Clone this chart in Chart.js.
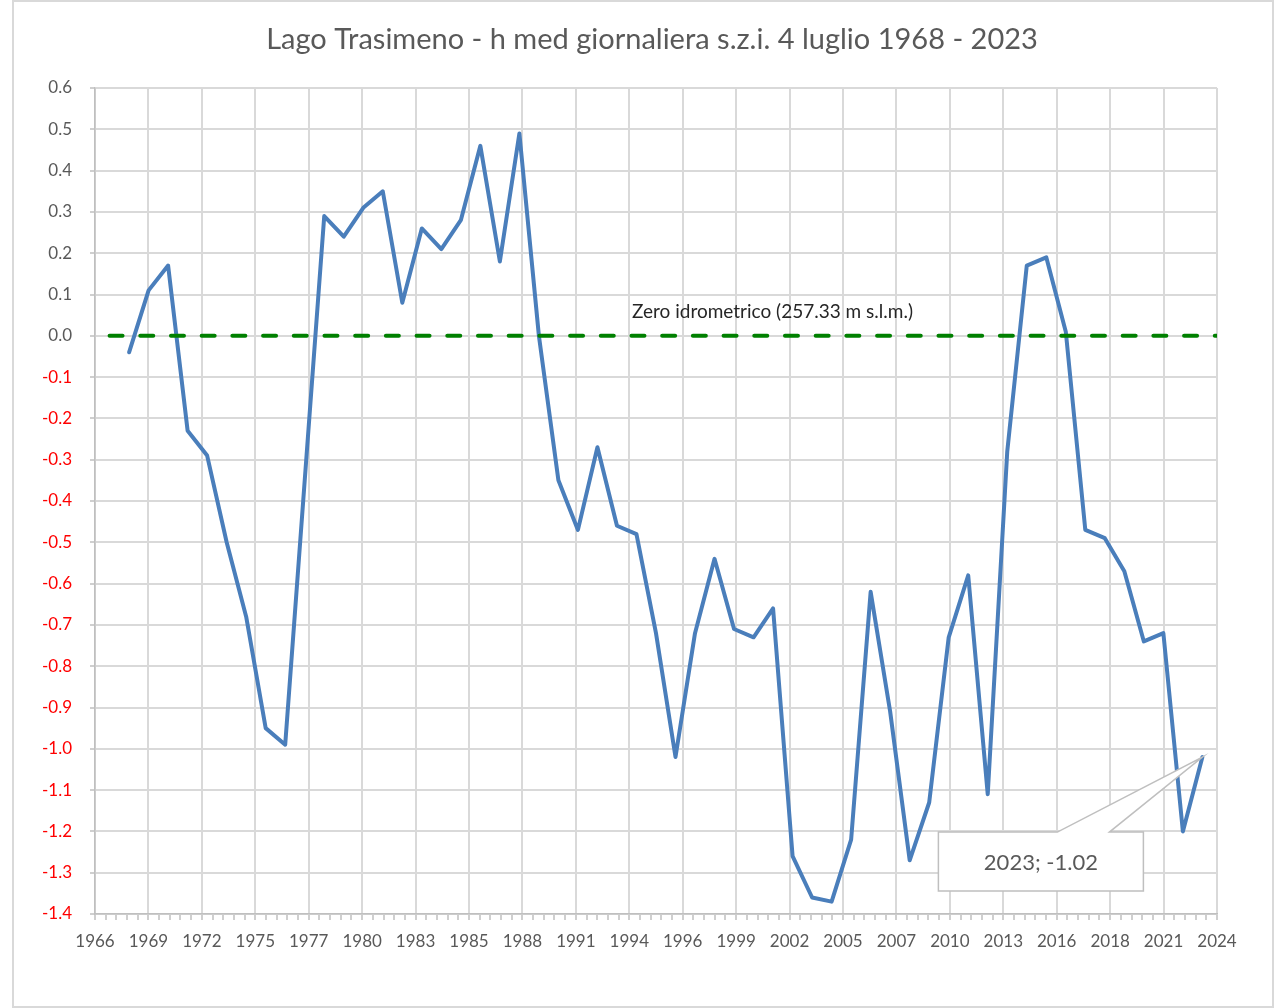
<!DOCTYPE html>
<html lang="it">

<head>
    <meta charset="UTF-8">
    <meta name="viewport" content="width=device-width, initial-scale=1.0">
    <title>Lago Trasimeno</title>
    <style>
        body { margin: 0; background: #fff; }
    </style>
</head>

<body>

    <div>
        <canvas id="myChart" width="1276" height="1008"></canvas>
    </div>

    <script src="https://cdn.jsdelivr.net/npm/chart.js"></script>

    <script>
        // anni delle misure (4 luglio di ogni anno)
        const anni = [
            1968, 1969, 1970, 1971, 1972, 1973, 1974, 1975, 1976, 1977,
            1978, 1979, 1980, 1981, 1982, 1983, 1984, 1985, 1986, 1987,
            1988, 1989, 1990, 1991, 1992, 1993, 1994, 1995, 1996, 1997,
            1998, 1999, 2000, 2001, 2002, 2003, 2004, 2005, 2006, 2007,
            2008, 2009, 2010, 2011, 2012, 2013, 2014, 2015, 2016, 2017,
            2018, 2019, 2020, 2021, 2022, 2023
        ];
        // livello medio giornaliero sullo zero idrometrico (m)
        const livelli = [
            -0.04, 0.11, 0.17, -0.23, -0.29, -0.50, -0.68, -0.95, -0.99, -0.35,
            0.29, 0.24, 0.31, 0.35, 0.08, 0.26, 0.21, 0.28, 0.46, 0.18,
            0.49, 0.00, -0.35, -0.47, -0.27, -0.46, -0.48, -0.72, -1.02, -0.72,
            -0.54, -0.71, -0.73, -0.66, -1.26, -1.36, -1.37, -1.22, -0.62, -0.91,
            -1.27, -1.13, -0.73, -0.58, -1.11, -0.28, 0.17, 0.19, 0.01, -0.47,
            -0.49, -0.57, -0.74, -0.72, -1.20, -1.02
        ];
        // serie dello zero idrometrico
        const anniZero = [
            1967, 1968, 1969, 1970, 1971, 1972, 1973, 1974, 1975, 1976, 1977, 1978,
            1979, 1980, 1981, 1982, 1983, 1984, 1985, 1986, 1987, 1988, 1989, 1990,
            1991, 1992, 1993, 1994, 1995, 1996, 1997, 1998, 1999, 2000, 2001, 2002,
            2003, 2004, 2005, 2006, 2007, 2008, 2009, 2010, 2011, 2012, 2013, 2014,
            2015, 2016, 2017, 2018, 2019, 2020, 2021, 2022, 2023, 2024
        ];
        const etichetteAnni = [
            '1966', '1969', '1972', '1975', '1977', '1980', '1983', '1985', '1988', '1991', '1994',
            '1996', '1999', '2002', '2005', '2007', '2010', '2013', '2016', '2018', '2021', '2024'
        ];
        const tickY = [-1.4, -1.3, -1.2, -1.1, -1.0, -0.9, -0.8, -0.7, -0.6, -0.5, -0.4, -0.3,
            -0.2, -0.1, 0.0, 0.1, 0.2, 0.3, 0.4, 0.5, 0.6];

        const titolo = 'Lago Trasimeno - h med giornaliera s.z.i. 4 luglio 1968 - 2023';
        const testoZero = 'Zero idrometrico (257.33 m s.l.m.)';

        const luglio4 = 185 / 366;          // frazione d'anno del 4 luglio
        const passoMaggiore = 1000 / 365.25; // asse data Excel: 1000 giorni
        const passoMinore = 200 / 365.25;
        const xMin = 1966.759;
        const xMax = xMin + (etichetteAnni.length - 1) * passoMaggiore;

        const serie = anni.map((a, i) => ({ x: a + luglio4, y: livelli[i] }));
        const serieZero = anniZero.map(a => ({ x: a + luglio4, y: 0 }));

        const font = 'Lato, "Open Sans", sans-serif';

        const decorazioni = {
            id: 'decorazioni',
            afterDraw(chart) {
                const c = chart.ctx;
                const xs = chart.scales.x;
                const ys = chart.scales.y;
                c.save();
                // cornice
                c.strokeStyle = '#d9d9d9';
                c.lineWidth = 2;
                c.strokeRect(13, 1, 1260, 1006);

                // titolo
                c.fillStyle = '#595959';
                c.font = '29px ' + font;
                c.textAlign = 'center';
                c.textBaseline = 'middle';
                c.fillText(titolo, 652, 40);

                // etichetta zero idrometrico
                c.fillStyle = '#262626';
                c.font = '19px ' + font;
                c.textAlign = 'left';
                c.fillText(testoZero, chart.chartArea.left + 537, ys.getPixelForValue(0) - 24);

                // etichetta dati ultimo punto
                const ult = serie.length - 1;
                const px = xs.getPixelForValue(serie[ult].x);
                const py = ys.getPixelForValue(serie[ult].y);
                const L = px - 264, T = py + 75, W = 205, H = 59;
                c.beginPath();
                c.moveTo(L, T);
                c.lineTo(L + 119, T);
                c.lineTo(px, py);
                c.lineTo(L + 171, T);
                c.lineTo(L + W, T);
                c.lineTo(L + W, T + H);
                c.lineTo(L, T + H);
                c.closePath();
                c.fillStyle = '#fff';
                c.fill();
                c.strokeStyle = '#bfbfbf';
                c.lineWidth = 1.5;
                c.stroke();
                c.fillStyle = '#595959';
                c.font = '22px ' + font;
                c.textAlign = 'center';
                c.fillText(anni[ult] + '; ' + livelli[ult].toFixed(2), L + W / 2, T + H / 2 + 1);
                c.restore();
            }
        };

        const ctx = document.getElementById('myChart');

        new Chart(ctx, {
            type: 'line',
            data: {
                datasets: [{
                    data: serie,
                    borderColor: '#4a7ebb',
                    borderWidth: 4,
                    borderJoinStyle: 'round',
                    borderCapStyle: 'round',
                    pointRadius: 0,
                    tension: 0,
                    order: 1
                }, {
                    data: serieZero,
                    borderColor: '#008000',
                    borderWidth: 4,
                    borderDash: [13, 17.7],
                    borderCapStyle: 'round',
                    pointRadius: 0,
                    order: 0
                }]
            },
            options: {
                responsive: false,
                animation: false,
                layout: { padding: { left: 0, right: 59, top: 88, bottom: 0 } },
                plugins: {
                    legend: { display: false },
                    tooltip: { enabled: false },
                    title: { display: false }
                },
                scales: {
                    x: {
                        type: 'linear',
                        min: xMin,
                        max: xMax,
                        afterBuildTicks(scale) {
                            const t = [];
                            const n = (etichetteAnni.length - 1) * 5;
                            for (let k = 0; k <= n; k++) t.push({ value: xMin + k * passoMinore });
                            scale.ticks = t;
                        },
                        afterFit(scale) { scale.height = 94; },
                        ticks: {
                            autoSkip: false,
                            maxRotation: 0,
                            padding: 11,
                            color: '#595959',
                            font: { family: font, size: 17 },
                            callback: (v, i) => i % 5 === 0 ? etichetteAnni[i / 5] : ''
                        },
                        grid: {
                            color: c => c.index % 5 === 0 ? '#d9d9d9' : 'rgba(0,0,0,0)',
                            lineWidth: 2,
                            tickColor: '#bfbfbf',
                            tickLength: 6,
                            tickWidth: 1.5
                        },
                        border: { color: '#bfbfbf', width: 1.5 }
                    },
                    y: {
                        min: tickY[0],
                        max: tickY[tickY.length - 1],
                        afterBuildTicks(scale) {
                            const t = [];
                            for (let i = 0; i < tickY.length; i++) {
                                t.push({ value: tickY[i] });
                                if (i < tickY.length - 1) t.push({ value: (tickY[i] + tickY[i + 1]) / 2 });
                            }
                            scale.ticks = t;
                        },
                        afterFit(scale) { scale.width = 95; },
                        ticks: {
                            padding: 18,
                            font: { family: font, size: 17 },
                            color: c => c.index % 2 === 0 && c.tick.value < -0.001 ? '#ff0000' : '#595959',
                            callback: (v, i) => i % 2 === 0 ? tickY[i / 2].toFixed(1) : ''
                        },
                        grid: {
                            color: c => c.index % 2 === 0 ? '#d9d9d9' : 'rgba(0,0,0,0)',
                            lineWidth: 2,
                            tickColor: '#bfbfbf',
                            tickLength: 5,
                            tickWidth: 1.5
                        },
                        border: { color: '#bfbfbf', width: 1.5 }
                    }
                }
            },
            plugins: [decorazioni]
        });
    </script>
</body>

</html>
